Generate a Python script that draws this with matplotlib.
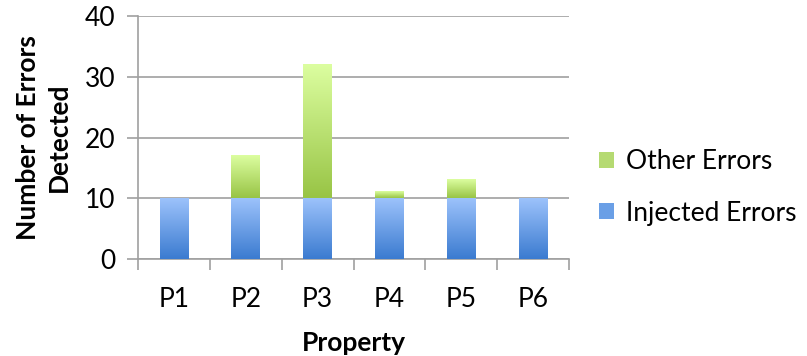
import numpy as np
import matplotlib
matplotlib.use("Agg")
import matplotlib.pyplot as plt
from matplotlib.colors import LinearSegmentedColormap
from matplotlib.patches import Rectangle

plt.rcParams['font.family'] = ['Lato', 'DejaVu Sans']

properties = ["P1", "P2", "P3", "P4", "P5", "P6"]
injected_errors = [10, 10, 10, 10, 10, 10]
other_errors = [0, 7, 22, 1, 3, 0]

blue_cmap = LinearSegmentedColormap.from_list("blue", ["#3b7bd0", "#9cc2fb"])
green_cmap = LinearSegmentedColormap.from_list("green", ["#98c445", "#dcfea0"])

fig = plt.figure(figsize=(8.07, 3.56), dpi=100)
ax = fig.add_axes([138 / 807, 1 - 259 / 356, (569 - 138) / 807, (259 - 16) / 356])

x = np.arange(len(properties))
width = 0.4
b_inj = ax.bar(x, injected_errors, width, color="none", label="Injected Errors", zorder=3)
b_oth = ax.bar(x, other_errors, width, bottom=injected_errors, color="none",
               label="Other Errors", zorder=3)

grad = np.linspace(0, 1, 256).reshape(-1, 1)


def fill_gradient(bars, cmap):
    for bar in bars:
        h = bar.get_height()
        if h <= 0:
            continue
        x0, y0, w = bar.get_x(), bar.get_y(), bar.get_width()
        ax.imshow(grad, cmap=cmap, origin="lower", aspect="auto",
                  extent=(x0, x0 + w, y0, y0 + h), zorder=3, interpolation="bilinear")


fill_gradient(b_inj, blue_cmap)
fill_gradient(b_oth, green_cmap)

ax.set_xlim(-0.5, len(properties) - 0.5)
ax.set_ylim(0, 40)
ax.set_yticks([0, 10, 20, 30, 40])
ax.yaxis.grid(True, color="#a0a0a0", linewidth=1.2, zorder=1)
ax.set_axisbelow(True)

for s in ["top", "right"]:
    ax.spines[s].set_visible(False)
for s in ["left", "bottom"]:
    ax.spines[s].set_color("#a0a0a0")
    ax.spines[s].set_linewidth(1.2)

ax.set_xticks(x)
ax.set_xticklabels(properties)
ax.set_xticks(np.arange(-0.5, len(properties)), minor=True)
ax.tick_params(axis="x", which="major", length=0, pad=20, labelsize=19)
ax.tick_params(axis="x", which="minor", length=8, width=1.2, color="#a0a0a0", direction="out")
ax.tick_params(axis="y", length=8, width=1.2, color="#a0a0a0", labelsize=19, pad=8)

ax.set_xlabel("Property", fontsize=19, fontweight="bold", labelpad=14)
ax.set_ylabel("Number of Errors\nDetected", fontsize=19, fontweight="bold", labelpad=10,
              linespacing=1.35)

handles = [Rectangle((0, 0), 1, 1, facecolor="#b5da72", edgecolor="none"),
           Rectangle((0, 0), 1, 1, facecolor="#6a9fe6", edgecolor="none")]
ax.legend(handles, ["Other Errors", "Injected Errors"], loc="center left",
          bbox_to_anchor=(1.07, 0.295), frameon=False, fontsize=19,
          handlelength=0.55, handleheight=0.55, handletextpad=0.45, labelspacing=1.0,
          borderpad=0, borderaxespad=0)

fig.savefig("out.png", dpi=100)
